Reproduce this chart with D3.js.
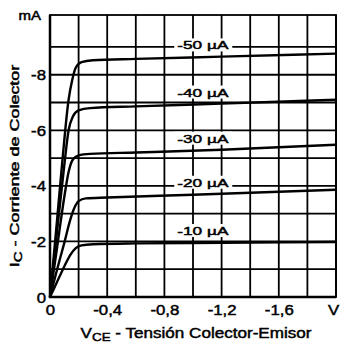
<!DOCTYPE html>
<html>
<head>
<meta charset="utf-8">
<script src="https://cdn.jsdelivr.net/npm/d3@7"></script>
<style>
  html, body { margin: 0; padding: 0; background: #fff; }
  svg { display: block; font-family: "Liberation Sans", Arial, sans-serif; }
  svg text { fill: #000; stroke: #000; stroke-width: 0.45px; }
</style>
</head>
<body>
<svg id="chart" width="340" height="349"></svg>
<script>
// collector curves, [V_CE in V, I_C in mA]
const baseCurrents = ["-50 µA", "-40 µA", "-30 µA", "-20 µA", "-10 µA"];
const ib50 = [[0, 0], [-0.05, -2.8], [-0.09, -5.1], [-0.13, -7.1], [-0.155, -7.8], [-0.18, -8.25], [-0.22, -8.45], [-0.3, -8.52], [-0.6, -8.57], [-1.2, -8.65], [-2.0, -8.76]];
const ib40 = [[0, 0], [-0.05, -2.4], [-0.1, -4.75], [-0.13, -6.0], [-0.16, -6.5], [-0.2, -6.72], [-0.28, -6.8], [-0.6, -6.86], [-1.2, -6.96], [-2.0, -7.1]];
const ib30 = [[0, 0], [-0.05, -1.8], [-0.1, -3.6], [-0.13, -4.5], [-0.16, -4.95], [-0.2, -5.1], [-0.28, -5.15], [-0.6, -5.2], [-1.2, -5.3], [-2.0, -5.48]];
const ib20 = [[0, 0], [-0.05, -1.0], [-0.1, -1.95], [-0.14, -2.75], [-0.17, -3.2], [-0.2, -3.45], [-0.25, -3.55], [-0.4, -3.58], [-1.0, -3.68], [-2.0, -3.86]];
const ib10 = [[0, 0], [-0.05, -0.55], [-0.1, -1.1], [-0.14, -1.5], [-0.18, -1.76], [-0.22, -1.86], [-0.3, -1.9], [-0.6, -1.93], [-1.2, -1.95], [-2.0, -1.98]];
const curves = [ib50, ib40, ib30, ib20, ib10];

const xTicks = [0, -0.4, -0.8, -1.2, -1.6, -2.0];
const xTickLabels = ["0", "-0,4", "-0,8", "-1,2", "-1,6", "V"];
const yTicks = [0, -2, -4, -6, -8];
const yTickLabels = ["0", "-2", "-4", "-6", "-8"];

const mLeft = 50, mRight = 336, mTop = 15, mBottom = 297;

const svg = d3.select("#chart");

const x = d3.scaleLinear().domain([0, -2]).range([mLeft, mRight]);
const y = d3.scaleLinear().domain([0, -10.15]).range([mBottom, mTop]);

// stretch text sideways, the scan's lettering is wide
function widen(sel, k) {
  sel.each(function () {
    const t = d3.select(this);
    const tx = +t.attr("x") || 0, ty = +t.attr("y") || 0;
    const rot = t.attr("data-rot");
    t.attr("x", null).attr("y", null)
      .attr("transform", "translate(" + tx + "," + ty + ")" + (rot ? " rotate(" + rot + ")" : "") + " scale(" + k + ",1)");
  });
}

// grid
svg.append("g")
  .selectAll("line")
  .data(x.ticks(10))
  .enter().append("line")
  .attr("x1", d => x(d)).attr("x2", d => x(d))
  .attr("y1", mTop).attr("y2", mBottom)
  .attr("stroke", "#000").attr("stroke-width", 1.8);

svg.append("g")
  .selectAll("line")
  .data(y.ticks(10).filter(d => d > -9.5))
  .enter().append("line")
  .attr("x1", mLeft).attr("x2", mRight)
  .attr("y1", d => y(d)).attr("y2", d => y(d))
  .attr("stroke", "#000").attr("stroke-width", 1.8);

svg.append("rect")
  .attr("x", mLeft).attr("y", mTop)
  .attr("width", mRight - mLeft).attr("height", mBottom - mTop)
  .attr("fill", "none").attr("stroke", "#000").attr("stroke-width", 1.8);

svg.append("path")
  .attr("d", "M" + mLeft + "," + mTop + "V" + mBottom + "H" + mRight)
  .attr("fill", "none").attr("stroke", "#000").attr("stroke-width", 2.5);

// label positions follow the curves
function valueAt(pts, v) {
  for (let i = 1; i < pts.length; i++) {
    if (pts[i][0] <= v) {
      const a = pts[i - 1], b = pts[i];
      return a[1] + (b[1] - a[1]) * (v - a[0]) / (b[0] - a[0]);
    }
  }
  return pts[pts.length - 1][1];
}

const labelV = -0.89;
const labels = svg.append("g")
  .selectAll("g")
  .data(baseCurrents)
  .enter().append("g");

labels.append("rect")
  .attr("x", x(labelV) - 3)
  .attr("y", (d, i) => y(valueAt(curves[i], -1.0)) - 8 - 11)
  .attr("width", 58)
  .attr("height", 13)
  .attr("fill", "#fff");

// curves
const line = d3.line()
  .x(d => x(d[0]))
  .y(d => y(d[1]))
  .curve(d3.curveMonotoneX);

svg.append("g")
  .selectAll("path")
  .data(curves)
  .enter().append("path")
  .attr("d", line)
  .attr("fill", "none")
  .attr("stroke", "#000")
  .attr("stroke-width", 2.4)
  .attr("stroke-linejoin", "round");

labels.append("text")
  .attr("x", x(labelV))
  .attr("y", (d, i) => y(valueAt(curves[i], -1.0)) - 8)
  .attr("font-size", 11.5)
  .text(d => d)
  .call(widen, 1.5);

// axes, no tick marks
const xAxis = svg.append("g")
  .attr("transform", "translate(0," + mBottom + ")")
  .call(d3.axisBottom(x).tickValues(xTicks).tickFormat((d, i) => xTickLabels[i]).tickSize(0).tickPadding(8));
xAxis.select(".domain").remove();
xAxis.selectAll("text")
  .attr("font-size", 14)
  .attr("dy", null).attr("y", 18)
  .attr("x", (d, i) => i === xTicks.length - 1 ? -3 : 0)
  .call(widen, 1.2);

const yAxis = svg.append("g")
  .attr("transform", "translate(" + mLeft + ",0)")
  .call(d3.axisLeft(y).tickValues(yTicks).tickFormat((d, i) => yTickLabels[i]).tickSize(0).tickPadding(4));
yAxis.select(".domain").remove();
yAxis.selectAll("text")
  .attr("font-size", 14)
  .attr("dy", null).attr("y", 5)
  .call(widen, 1.2);

svg.append("text")
  .attr("x", 41).attr("y", 20)
  .attr("text-anchor", "end")
  .attr("font-size", 12)
  .text("mA")
  .call(widen, 1.25);

// axis titles
const xTitle = svg.append("text")
  .attr("x", 196).attr("y", 338)
  .attr("text-anchor", "middle")
  .attr("font-size", 14);
xTitle.append("tspan").text("V");
xTitle.append("tspan").attr("font-size", 11).attr("dy", 3).text("CE");
xTitle.append("tspan").attr("dy", -3).text(" - Tensión Colector-Emisor");
xTitle.call(widen, 1.22);

const yTitle = svg.append("text")
  .attr("x", 19).attr("y", 166)
  .attr("data-rot", -90)
  .attr("text-anchor", "middle")
  .attr("font-size", 12);
yTitle.append("tspan").text("I");
yTitle.append("tspan").attr("font-size", 10).attr("dy", 3).text("C");
yTitle.append("tspan").attr("dy", -3).text(" - Corriente de Colector");
yTitle.call(widen, 1.5);
</script>
</body>
</html>
